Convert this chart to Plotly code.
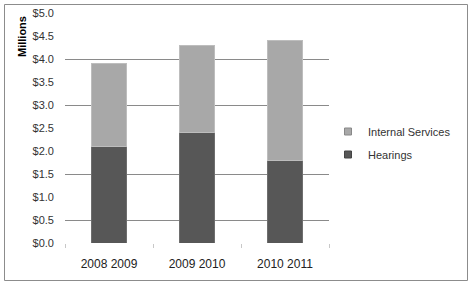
import plotly.graph_objects as go

categories = ["2008 2009", "2009 2010", "2010 2011"]
hearings = [2.1, 2.4, 1.8]
internal_services = [1.8, 1.9, 2.6]
y_ticks = [0, 0.5, 1.0, 1.5, 2.0, 2.5, 3.0, 3.5, 4.0, 4.5, 5.0]
y_tick_labels = ["$%.1f" % v for v in y_ticks]
visible_grid = [0.5, 1.5, 3.0, 4.0, 5.0]

W, H = 472, 288
L, R, T, B = 65, 329, 13, 243
pw, ph = R - L, B - T

dark = "#575757"
light = "#a8a8a8"

fig = go.Figure()
fig.add_trace(go.Bar(
    x=categories, y=hearings, name="Hearings", showlegend=False,
    marker=dict(color=dark, line=dict(color="#6e6e6e", width=1)),
))
fig.add_trace(go.Bar(
    x=categories, y=internal_services, name="Internal Services", showlegend=False,
    marker=dict(color=light, line=dict(color="#bdbdbd", width=1)),
))
# legend entries (small square swatches)
fig.add_trace(go.Scatter(
    x=[None], y=[None], mode="markers", name="Internal Services", legendgroup="i",
    marker=dict(symbol="square", size=7, color=light, line=dict(color="#888", width=1)),
))
fig.add_trace(go.Scatter(
    x=[None], y=[None], mode="markers", name="Hearings", legendgroup="h",
    marker=dict(symbol="square", size=7, color=dark, line=dict(color="#444", width=1)),
))
fig.add_trace(go.Scatter(x=[categories[0]], y=[0], yaxis="y2", mode="none",
                         showlegend=False, hoverinfo="skip"))

font = "Liberation Sans, Arial, sans-serif"
fig.update_layout(
    width=W, height=H,
    margin=dict(l=L, r=W - R, t=T, b=H - B, pad=0, autoexpand=False),
    paper_bgcolor="white", plot_bgcolor="white",
    barmode="stack", bargap=0.6,
    showlegend=True,
    legend=dict(
        x=(328 - L) / pw, y=(243 - 143) / ph, xanchor="left", yanchor="middle",
        traceorder="grouped", tracegroupgap=4,
        font=dict(family=font, size=11, color="#333333"),
        bgcolor="rgba(0,0,0,0)", itemwidth=30,
    ),
    font=dict(family=font, size=11, color="#222222"),
    xaxis=dict(
        showgrid=False, showline=False, zeroline=False,
        ticks="outside", tickson="boundaries", ticklen=4, tickcolor="#c8c8c8",
        tickfont=dict(size=12, color="#222222"), ticklabelstandoff=12,
    ),
    yaxis=dict(
        range=[0, 5], tickvals=y_ticks, ticktext=y_tick_labels,
        showgrid=False, zeroline=False, showline=False,
        tickfont=dict(size=11, color="#333333"), ticklabelstandoff=10,
    ),
    yaxis2=dict(
        range=[0, 5], overlaying="y", tickvals=visible_grid,
        showticklabels=False, showgrid=True, gridcolor="#8a8a8a", gridwidth=1,
        zeroline=False, showline=False,
    ),
)

fig.add_annotation(
    text="<b>Millions</b>", textangle=-90, xref="paper", yref="paper",
    x=(22 - L) / pw, y=(243 - 37) / ph, xanchor="center", yanchor="middle",
    showarrow=False, font=dict(family=font, size=11, color="#000000"),
)
fig.add_shape(
    type="rect", xref="paper", yref="paper",
    x0=(4.5 - L) / pw, x1=(467.5 - L) / pw,
    y0=(B - 280.5) / ph, y1=(B - 4.5) / ph,
    line=dict(color="#8c8c8c", width=1), fillcolor="rgba(0,0,0,0)", layer="below",
)

fig.write_html("out.html")
